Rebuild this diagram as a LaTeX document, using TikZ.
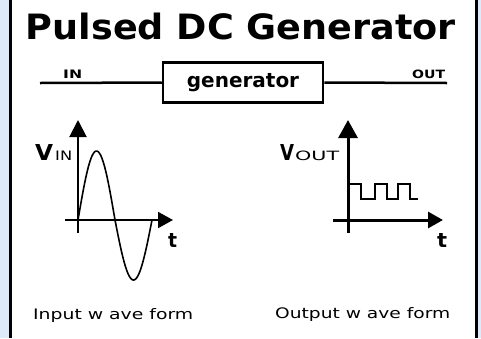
\documentclass[tikz,border=0pt]{standalone}
\usepackage{fontspec}
\setmainfont{DejaVu Sans}
\usepackage{graphicx}
\usepackage{tikz}
\usetikzlibrary{arrows.meta}
\definecolor{pgblue}{HTML}{DDEAF9}
\definecolor{pgink}{HTML}{000000}
\newcommand{\fitbox}[3]{\resizebox{#1}{#2}{#3}}

\begin{document}
\begin{tikzpicture}[x=1pt,y=-1pt,
  lbl/.style={anchor=base west,inner sep=0pt},
  wire/.style={pgink,line width=2.5pt},
  axisl/.style={pgink,line width=2pt},
  axisr/.style={pgink,line width=3pt}]
  \useasboundingbox (0,0) rectangle (481,338);
  \fill[pgblue] (0,0) rectangle (481,338);
  \fill[white] (10,0) rectangle (476.5,338);
  \draw[pgink,line width=3pt] (10,0) -- (10,338);
  \draw[pgink,line width=3pt] (476.5,0) -- (476.5,338);

  \node[lbl] (title) at (25.7,39.5) {\fitbox{430pt}{26.5pt}{\bfseries Pulsed DC Generator}};

  \coordinate (inend) at (40,83);
  \coordinate (outend) at (447,83);
  \node[draw=pgink,line width=2.5pt,minimum width=160pt,minimum height=40pt,inner sep=0pt,
        font=\bfseries\fontsize{20}{24}\selectfont] (gen) at (243,82.5) {generator};
  \draw[wire] (inend) -- (gen.west);
  \draw[wire] (gen.east) -- (outend);
  \node[lbl] (inlbl) at (63,78.5) {\fitbox{19pt}{8.5pt}{\bfseries IN}};
  \node[lbl] (outlbl) at (412,78.5) {\fitbox{33pt}{8.5pt}{\bfseries OUT}};

  \coordinate (lorig) at (78,220);
  \coordinate (lbot) at (78,233);
  \coordinate (ltop) at (78,120);
  \coordinate (lleft) at (65,220);
  \coordinate (lright) at (173,220);
  \draw[axisl,-{Triangle[length=17pt,width=17pt]}] (lbot) -- (ltop);
  \draw[axisl,-{Triangle[length=15pt,width=16pt]}] (lleft) -- (lright);
  \draw[pgink,line width=1.6pt] plot[domain=0:37,samples=40] ({78+\x},{220-69*sin(\x/74*360)})
    -- plot[domain=37:74,samples=40] ({78+\x},{220-60*sin(\x/74*360)});
  \node[lbl] (vin) at (35,160) {\fitbox{18pt}{16pt}{\bfseries V}};
  \node[lbl] (vinsub) at (55,160) {\fitbox{17pt}{9.5pt}{IN}};
  \node[lbl] (tin) at (168,247) {\fitbox{9pt}{14pt}{\bfseries t}};

  \coordinate (rorig) at (348,220);
  \coordinate (rbot) at (348,233);
  \coordinate (rtop) at (348,120);
  \coordinate (rleft) at (333,220);
  \coordinate (rright) at (443,220);
  \draw[axisr,-{Triangle[length=18pt,width=19pt]}] (rbot) -- (rtop);
  \draw[axisr,-{Triangle[length=15pt,width=16pt]}] (rleft) -- (rright);
  \draw[pgink,line width=1.5pt] (348,184) -- (361,184) -- (361,199) -- (375,199) -- (375,184)
    -- (387,184) -- (387,199) -- (398,199) -- (398,184) -- (410,184) -- (410,199) -- (418,199);
  \node[lbl] (vout) at (280,160) {\fitbox{14pt}{16pt}{\bfseries V}};
  \node[lbl] (voutsub) at (295,160) {\fitbox{44pt}{9.5pt}{OUT}};
  \node[lbl] (tout) at (437,247) {\fitbox{10pt}{14pt}{\bfseries t}};

  \node[lbl] (incap) at (33,319.5) {\fitbox{160pt}{11pt}{Input w ave form}};
  \node[lbl] (outcap) at (275,318.5) {\fitbox{175pt}{11pt}{Output w ave form}};
\end{tikzpicture}
\end{document}
